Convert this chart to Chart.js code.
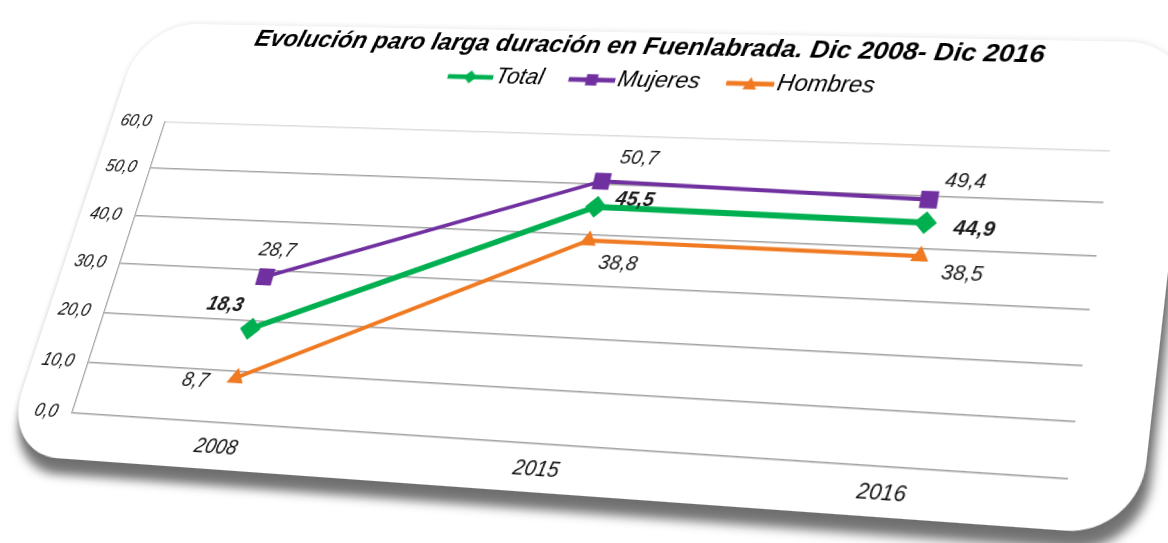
<!DOCTYPE html>
<html>
<head>
<meta charset="utf-8">
<script src="https://cdn.jsdelivr.net/npm/chart.js@4.4.1/dist/chart.umd.min.js"></script>
<style>
  html, body { margin: 0; padding: 0; background: #fff; overflow: hidden; }
  body { width: 1168px; height: 543px; position: relative; }
  #sheet { position: absolute; left: 0; top: 0; transform-origin: 0 0; }
  #card {
    position: absolute;
    background: #fff;
    border-radius: 62px;
    box-shadow: 6px 15px 10px rgba(0, 0, 0, 0.55), 0 0 7px rgba(0, 0, 0, 0.12);
  }
  #chart { position: absolute; left: 0; top: 0; }
</style>
</head>
<body>
<div id="sheet">
  <div id="card"></div>
  <canvas id="chart" width="1176" height="472"></canvas>
</div>
<script>
// data
const years = ['2008', '2015', '2016'];
const total = [18.3, 45.5, 44.9];
const mujeres = [28.7, 50.7, 49.4];
const hombres = [8.7, 38.8, 38.5];
const seriesNames = ['Total', 'Mujeres', 'Hombres'];

const GREEN = '#00B050';
const PURPLE = '#7030A0';
const ORANGE = '#F07A22';
const FONT = "'Liberation Sans', Arial, sans-serif";

// where the plot area ends up on the page (tilted sheet)
const plotQuad = [[165, 122], [1110, 151], [1068, 479], [72, 413]];

// data label offsets from each point, per series
const labelOffsets = [
    [[-34, -22], [38, -8], [47, 5]],
    [[5, -27], [33, -24], [32, -19]],
    [[-42, 5], [35, 22], [42, 15]]
];

// legend sample: a short line with the marker in the middle
function legendIcon(color, shape) {
    const c = document.createElement('canvas');
    c.width = 75;
    c.height = 18;
    const g = c.getContext('2d');
    g.strokeStyle = color;
    g.fillStyle = color;
    g.lineWidth = 5;
    g.beginPath();
    g.moveTo(26, 9);
    g.lineTo(75, 9);
    g.stroke();
    const cx = 50.5, cy = 9;
    g.beginPath();
    if (shape === 'diamond') {
        g.moveTo(cx, cy - 7); g.lineTo(cx + 7, cy); g.lineTo(cx, cy + 7); g.lineTo(cx - 7, cy);
    } else if (shape === 'square') {
        g.rect(cx - 6, cy - 6, 12, 12);
    } else {
        g.moveTo(cx, cy - 7); g.lineTo(cx + 7, cy + 6); g.lineTo(cx - 7, cy + 6);
    }
    g.closePath();
    g.fill();
    return c;
}

const legendIcons = [legendIcon(GREEN, 'diamond'), legendIcon(PURPLE, 'square'), legendIcon(ORANGE, 'triangle')];

const pointLabels = {
    id: 'pointLabels',
    afterDatasetsDraw(chart) {
        const ctx = chart.ctx;
        ctx.save();
        ctx.textAlign = 'center';
        ctx.textBaseline = 'middle';
        ctx.fillStyle = '#1a1a1a';
        chart.data.datasets.forEach((ds, i) => {
            const meta = chart.getDatasetMeta(i);
            ctx.font = (i === 0 ? 'italic bold ' : 'italic ') + '20px ' + FONT;
            meta.data.forEach((pt, j) => {
                const off = labelOffsets[i][j];
                ctx.fillText(ds.data[j].toFixed(1).replace('.', ','), pt.x + off[0], pt.y + off[1]);
            });
        });
        ctx.restore();
    }
};

function makeLine(label, data, color, style, radius, width) {
    return {
        label: label,
        data: data,
        borderColor: color,
        backgroundColor: color,
        borderWidth: width,
        pointStyle: style,
        pointRadius: radius,
        pointBorderWidth: 0,
        pointBackgroundColor: color,
        tension: 0,
        xAxisID: 'x',
        yAxisID: 'y'
    };
}

const chart = new Chart(document.getElementById('chart'), {
    type: 'line',
    data: {
        labels: years,
        datasets: [
            makeLine(seriesNames[0], total, GREEN, 'rectRot', 11, 6),
            makeLine(seriesNames[1], mujeres, PURPLE, 'rect', 12, 4),
            makeLine(seriesNames[2], hombres, ORANGE, 'triangle', 10, 4)
        ]
    },
    options: {
        responsive: false,
        animation: false,
        layout: { padding: { top: 8, left: 8, right: 8, bottom: 8 } },
        plugins: {
            title: {
                display: true,
                text: 'Evolución paro larga duración en Fuenlabrada. Dic 2008- Dic 2016',
                fullSize: false,
                color: '#000',
                font: { family: FONT, size: 26.5, style: 'italic', weight: 'bold', lineHeight: 1.05 },
                padding: { top: 0, bottom: 0 }
            },
            legend: {
                position: 'top',
                labels: {
                    usePointStyle: true,
                    pointStyleWidth: 57,
                    padding: 10,
                    color: '#111',
                    font: { family: FONT, size: 24, style: 'italic' },
                    generateLabels: (c) => c.data.datasets.map((ds, i) => ({
                        text: ds.label,
                        pointStyle: legendIcons[i],
                        fillStyle: ds.borderColor,
                        strokeStyle: ds.borderColor,
                        lineWidth: 0,
                        hidden: false,
                        datasetIndex: i
                    }))
                }
            },
            tooltip: { enabled: false }
        },
        scales: {
            x: {
                type: 'category',
                offset: true,
                grid: { display: false, drawTicks: false },
                border: { display: false },
                ticks: { color: '#111', padding: 11, font: { family: FONT, size: 20, style: 'italic' } }
            },
            y: {
                min: 0,
                max: 60,
                ticks: {
                    stepSize: 10,
                    padding: 16,
                    color: '#111',
                    font: { family: FONT, size: 18, style: 'italic' },
                    callback: (v) => v.toFixed(1).replace('.', ',')
                },
                grid: {
                    drawTicks: false,
                    lineWidth: 1.4,
                    color: (c) => c.tick && c.tick.value === 60 ? '#dcdcdc' : '#a3a3a3'
                },
                border: { display: true, color: '#a3a3a3', width: 1.4 }
            },
            // empty axes, only used to leave room like the original layout
            xTop: {
                type: 'category',
                position: 'top',
                grid: { display: false, drawTicks: false },
                border: { display: false },
                ticks: { display: false },
                afterFit: (s) => { s.height = 36; }
            },
            yRight: {
                type: 'linear',
                position: 'right',
                grid: { display: false, drawTicks: false },
                border: { display: false },
                ticks: { display: false },
                afterFit: (s) => { s.width = 115; }
            }
        }
    },
    plugins: [pointLabels]
});

// white rounded sheet behind the chart
const ca = chart.chartArea;
const card = document.getElementById('card');
card.style.left = (ca.left - 62) + 'px';
card.style.top = (ca.top - 110) + 'px';
card.style.width = (ca.right - ca.left + 62 + 66) + 'px';
card.style.height = (ca.bottom - ca.top + 110 + 44) + 'px';

// tilt the whole sheet so the plot area lands on plotQuad
function quadMatrix(x, y, w, h, q) {
    const [[x0, y0], [x1, y1], [x2, y2], [x3, y3]] = q;
    const dx1 = x1 - x2, dx2 = x3 - x2, dy1 = y1 - y2, dy2 = y3 - y2;
    const sx = x0 - x1 + x2 - x3, sy = y0 - y1 + y2 - y3;
    const den = dx1 * dy2 - dx2 * dy1;
    const g = (sx * dy2 - dx2 * sy) / den;
    const k = (dx1 * sy - sx * dy1) / den;
    const a = x1 - x0 + g * x1, b = x3 - x0 + k * x3, c = x0;
    const d = y1 - y0 + g * y1, e = y3 - y0 + k * y3, f = y0;
    const A = a / w, B = b / h, C = c - a * x / w - b * y / h;
    const D = d / w, E = e / h, F = f - d * x / w - e * y / h;
    const G = g / w, H = k / h, I = 1 - g * x / w - k * y / h;
    return 'matrix3d(' + [A, D, 0, G, B, E, 0, H, 0, 0, 1, 0, C, F, 0, I].join(',') + ')';
}

document.getElementById('sheet').style.transform =
    quadMatrix(ca.left, ca.top, ca.right - ca.left, ca.bottom - ca.top, plotQuad);
</script>
</body>
</html>
